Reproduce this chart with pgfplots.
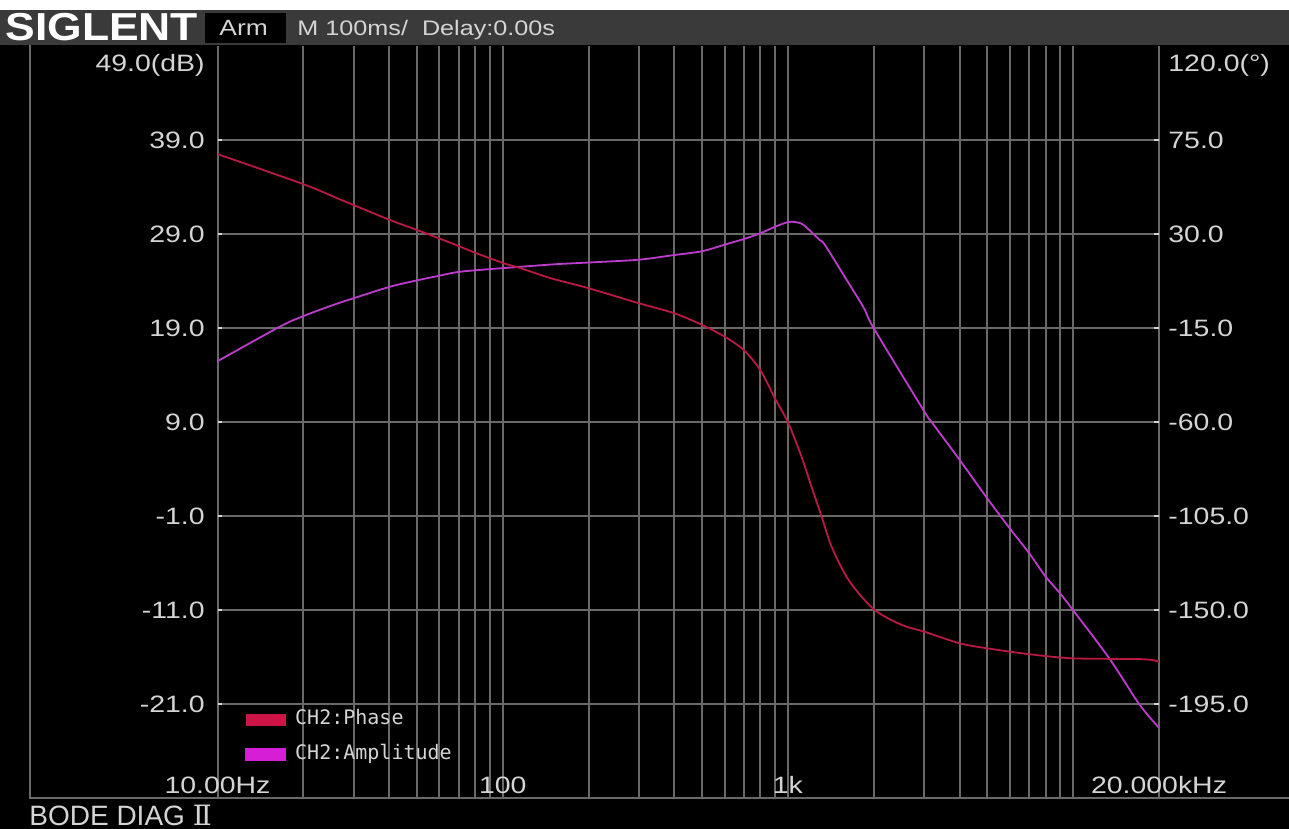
\documentclass[border=0pt]{standalone}
\usepackage{fontspec}
\setmainfont{Liberation Sans}
\newfontfamily\lab[FakeStretch=1.2]{Liberation Sans}
\newfontfamily\logo[FakeStretch=1.14]{Liberation Sans}
\newfontfamily\mono{DejaVu Sans Mono}
\newfontfamily\dvserif{DejaVu Serif}
\usepackage{pgfplots}
\pgfplotsset{compat=1.18}
\definecolor{bgbar}{RGB}{58,58,58}
\definecolor{gridc}{RGB}{105,105,105}
\definecolor{txt}{RGB}{212,212,212}
\definecolor{phasec}{RGB}{185,25,68}
\definecolor{ampc}{RGB}{190,60,205}
\definecolor{phaseleg}{RGB}{205,20,70}
\definecolor{ampleg}{RGB}{215,30,215}
\begin{document}
\begin{tikzpicture}
\begin{scope}[x=0.5pt,y=-0.5pt]
\path[use as bounding box, fill=black] (0,0) rectangle (1289,829);
\fill[white] (0,0) rectangle (1289,10);
\fill[bgbar] (0,10) rectangle (1289,45);
\draw[gridc, line width=1pt] (29.5,45) -- (29.5,798) -- (1289,798);
\node[anchor=base west, inner sep=0pt, text=white, font=\logo\bfseries\fontsize{19.5}{20}\selectfont] at (5,41) {SIGLENT};
\fill[black] (205,13) rectangle (286,43);
\node[anchor=base west, inner sep=0pt, text=txt, font=\lab\fontsize{11}{12}\selectfont] at (219,36) {Arm};
\node[anchor=base west, inner sep=0pt, text=txt, font=\lab\fontsize{10.5}{12}\selectfont] at (297,36) {M 100ms/\ \ Delay:0.00s};
\node[anchor=base west, inner sep=0pt, text=txt, font=\fontsize{14}{16}\selectfont] at (29,825) {BODE DIAG {\dvserif Ⅱ}};
\node[anchor=east, inner sep=0pt, text=txt, font=\lab\fontsize{11.85}{13}\selectfont] at (205,65) {49.0(dB)};
\node[anchor=west, inner sep=0pt, text=txt, font=\lab\fontsize{11.85}{13}\selectfont] at (1168,65) {120.0(°)};
\end{scope}

\begin{axis}[
  at={(108.75pt,-399.15pt)}, anchor=south west,
  scale only axis, width=470.75pt, height=376pt,
  xmode=log, xmin=10, xmax=20000, ymin=-31, ymax=49,
  axis line style={draw=none},
  xtick={10,100,1000,10000,20000},
  xticklabels={10.00Hz,100,1k,,20.000kHz},
  minor xtick={20,30,40,50,60,70,80,90,200,300,400,500,600,700,800,900,2000,3000,4000,5000,6000,7000,8000,9000},
  xmajorgrids, xminorgrids, ymajorgrids,
  grid style={gridc, line width=1pt},
  minor grid style={gridc, line width=1pt},
  major x tick style={draw=none}, minor x tick style={draw=none},
  ytick={-21,-11,-1,9,19,29,39},
  yticklabels={-21.0,-11.0,-1.0,9.0,19.0,29.0,39.0},
  ytick pos=left,
  tick align=inside,
  major tick length=2.5pt,
  y tick style={txt, line width=1pt},
  yticklabel style={anchor=east, inner sep=0pt, xshift=-6.25pt, text=txt, font=\lab\fontsize{11.85}{13}\selectfont},
  xticklabel style={anchor=base, inner sep=0pt, yshift=2.5pt, text=txt, font=\lab\fontsize{11.85}{13}\selectfont},
  legend style={at={(rel axis cs:0.0292,0.1174)}, anchor=north west, draw=none, fill=none, inner sep=0pt,
    row sep=8.5pt, column sep=4.5pt,
    nodes={inner sep=0pt, text=txt, font=\mono\fontsize{10}{12}\selectfont, text height=7pt, text depth=2pt}},
  legend cell align=left,
]
\addlegendimage{legend image code/.code={\fill[phaseleg] (0pt,-2.75pt) rectangle (19.5pt,2.75pt);}}
\addlegendentry{CH2:Phase}
\addplot[ampc, line width=0.9pt, smooth, tension=0.5, legend image code/.code={\fill[ampleg] (0pt,-2.75pt) rectangle (19.5pt,2.75pt);}] coordinates {
(10,15.5) (16.6,19.2) (20,20.3) (25,21.4) (30,22.2) (40,23.4) (50,24.1) (60,24.6) (70,25.0) (90,25.3) (100,25.4)
(150,25.8) (200,26.0) (300,26.3) (400,26.8) (500,27.2) (600,27.9) (700,28.5) (800,29.1) (900,29.8)
(1000,30.3) (1060,30.3) (1134,30.0) (1291,28.4) (1346,27.9) (1580,24.5) (1843,21.2) (2000,19.0)
(3000,10.2) (3195,9.0) (4000,5.0) (5000,0.9) (6000,-2.3) (7000,-4.9) (8000,-7.4) (9000,-9.2)
(10000,-11.0) (13380,-16.1) (17060,-21.0) (20000,-23.5)
};
\addlegendentry{CH2:Amplitude}
\end{axis}

\begin{axis}[
  at={(108.75pt,-399.15pt)}, anchor=south west,
  scale only axis, width=470.75pt, height=376pt,
  xmode=log, xmin=10, xmax=20000, ymin=-240, ymax=120,
  axis line style={draw=none},
  xtick=\empty,
  ytick={-195,-150,-105,-60,-15,30,75},
  yticklabels={-195.0,-150.0,-105.0,-60.0,-15.0,30.0,75.0},
  ytick pos=right, yticklabel pos=right,
  tick align=inside,
  major tick length=2.5pt,
  y tick style={txt, line width=1pt},
  yticklabel style={anchor=west, inner sep=0pt, xshift=4.5pt, text=txt, font=\lab\fontsize{11.85}{13}\selectfont},
]
\addplot[phasec, line width=0.9pt, smooth, tension=0.5] coordinates {
(10,68.4) (20,54.0) (27,46.6) (40,37.0) (50,32.1) (60,28.0) (70,24.4) (80,21.2) (100,16.3) (116,13.7)
(148,8.9) (200,4.2) (300,-3.0) (400,-7.8) (500,-13.4) (600,-19.0) (700,-25.4) (800,-35.0) (900,-48.5)
(1000,-60.0) (1116,-76.5) (1209,-90.8) (1311,-104.9) (1422,-119.5) (1632,-135.5) (2000,-149.5)
(2506,-157.0) (3000,-160.2) (4000,-165.8) (5000,-168.2) (7000,-171.0) (10000,-173.0) (17500,-173.4) (20000,-174.6)
};
\end{axis}
\end{tikzpicture}
\end{document}
